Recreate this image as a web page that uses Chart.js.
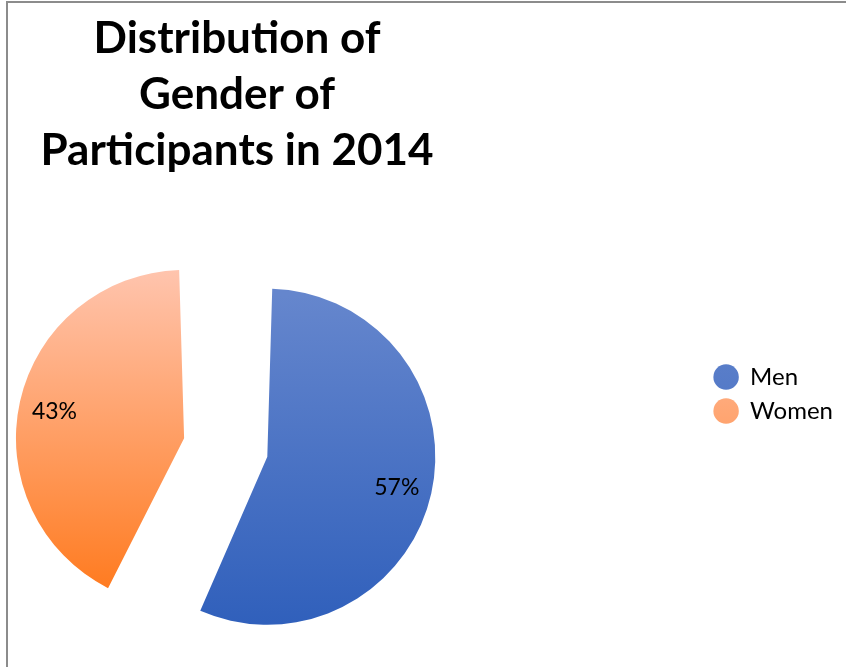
<!DOCTYPE html>
<html>
<head>
<meta charset="utf-8">
<script src="https://cdn.jsdelivr.net/npm/chart.js@4"></script>
<style>
  body { margin: 0; background: #fff; }
  #marco {
    position: absolute; left: 6px; top: 1px; width: 900px; height: 700px;
    border-left: 2px solid #8c8c8c; border-top: 2px solid #8c8c8c;
  }
  #grafico { position: absolute; left: 0; top: 0; }
</style>
</head>
<body>
<div id="marco"></div>
<canvas id="grafico" width="846" height="667"></canvas>
<script>
//Datos

const categorias = ['Men', 'Women'];
const porcentajes = [57, 43];
const tituloLineas = ['Distribution of', 'Gender of', 'Participants in 2014'];

//Estilos

const coloresArriba = ['#6586cd', '#ffc7b3'];
const coloresAbajo = ['#2f5fbb', '#ff7a1e'];
const separacion = [124, 217];   // offset de cada porcion (explotada)
const RADIO = 137;

//Funciones

// desplazamiento y radio real de una porcion, como lo dibuja Chart.js
function geometria(i) {
    const total = porcentajes.reduce((a, b) => a + b, 0);
    let antes = 0;
    for (let k = 0; k < i; k++) antes += porcentajes[k];
    const circ = 2 * Math.PI * porcentajes[i] / total;
    const medio = -Math.PI / 2 + 2 * Math.PI * antes / total + circ / 2;
    const t = separacion[i] / 4;
    const fix = 1 - Math.sin(Math.min(Math.PI, circ));
    return { medio, t, radio: RADIO + t * fix };
}

// degradado vertical por porcion
function degradado(context) {
    const i = context.dataIndex;
    const chart = context.chart;
    const area = chart.chartArea;
    if (!area) return coloresAbajo[i];
    const g0 = geometria(i);
    const cy = (area.top + area.bottom) / 2 + Math.sin(g0.medio) * g0.t;
    const g = chart.ctx.createLinearGradient(0, cy - g0.radio, 0, cy + g0.radio);
    g.addColorStop(0, coloresArriba[i]);
    g.addColorStop(1, coloresAbajo[i]);
    return g;
}

// porcentajes dentro de cada porcion
const etiquetas = {
    id: 'etiquetas',
    afterDatasetsDraw(chart) {
        const ctx = chart.ctx;
        const meta = chart.getDatasetMeta(0);
        const total = porcentajes.reduce((a, b) => a + b, 0);
        ctx.save();
        ctx.font = '23px Lato';
        ctx.fillStyle = '#000';
        ctx.textAlign = 'center';
        ctx.textBaseline = 'middle';
        meta.data.forEach((arco, i) => {
            const p = arco.getProps(['x', 'y', 'startAngle', 'endAngle', 'outerRadius', 'circumference']);
            const medio = (p.startAngle + p.endAngle) / 2;
            const t = (arco.options.offset || 0) / 4;
            const fix = 1 - Math.sin(Math.min(Math.PI, p.circumference));
            const dist = t + (p.outerRadius + t * fix) * 0.79;
            const texto = Math.round(porcentajes[i] / total * 100) + '%';
            ctx.fillText(texto, p.x + Math.cos(medio) * dist, p.y + Math.sin(medio) * dist + 2);
        });
        ctx.restore();
    }
};

// caja vacia entre el grafico y la leyenda
const espacio = {
    id: 'espacio',
    beforeInit(chart) {
        Chart.layouts.addBox(chart, {
            position: 'right',
            weight: 500,
            fullSize: false,
            options: {},
            left: 0, top: 0, right: 0, bottom: 0, width: 0, height: 0,
            isHorizontal() { return false; },
            update(maxWidth, maxHeight) { this.width = 230; this.height = maxHeight; },
            draw() {}
        });
    }
};

const data = {
    labels: categorias,
    datasets: [{
        data: porcentajes,
        backgroundColor: degradado,
        borderWidth: 0,
        offset: separacion
    }]
};

const config = {
    type: 'pie',
    data: data,
    options: {
        responsive: false,
        animation: false,
        events: [],
        radius: RADIO,
        layout: { padding: { left: 0, right: 3, top: 0, bottom: 0 } },
        plugins: {
            tooltip: { enabled: false },
            title: {
                display: true,
                text: tituloLineas,
                position: 'top',
                fullSize: false,
                color: '#000',
                font: { family: 'Lato', size: 44, weight: 'bold', lineHeight: '56px' },
                padding: { top: 11, bottom: 54 }
            },
            legend: {
                position: 'right',
                align: 'start',
                fullSize: false,
                title: {
                    display: true,
                    text: '',
                    font: { size: 10, lineHeight: 1 },
                    padding: { top: 112, bottom: 0 }
                },
                labels: {
                    usePointStyle: true,
                    pointStyle: 'circle',
                    boxHeight: 18,
                    padding: 10,
                    color: '#000',
                    font: { family: 'Lato', size: 24 }
                }
            }
        }
    },
    plugins: [etiquetas, espacio]
};

window.myChart = new Chart(document.getElementById('grafico'), config);
</script>
</body>
</html>
